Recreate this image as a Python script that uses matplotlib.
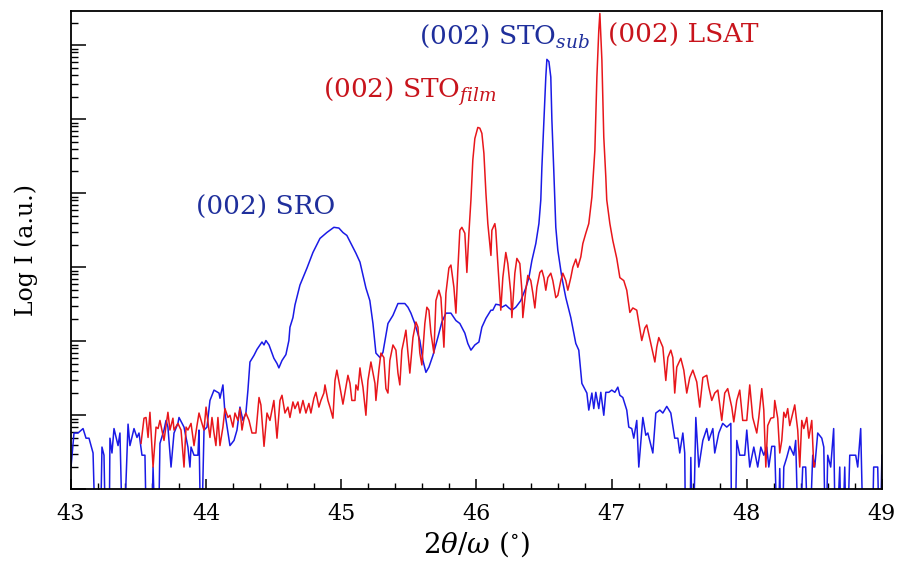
import numpy as np
import matplotlib
matplotlib.use("Agg")
import matplotlib.pyplot as plt
from matplotlib.ticker import LogLocator, NullFormatter, MultipleLocator

plt.rcParams["font.family"] = ["DejaVu Serif"]
plt.rcParams["mathtext.fontset"] = "dejavuserif"

# SRO film on STO substrate (blue), log10 of counts; -1 = no counts
sro_2theta = [43.000, 43.022, 43.052, 43.089, 43.111, 43.133, 43.163, 43.185, 43.214, 43.229,
              43.244, 43.259, 43.281, 43.288, 43.303, 43.318, 43.348, 43.362, 43.385, 43.422,
              43.436, 43.466, 43.488, 43.503, 43.525, 43.547, 43.562, 43.592, 43.607, 43.629,
              43.644, 43.658, 43.688, 43.703, 43.717, 43.740, 43.762, 43.791, 43.799, 43.836,
              43.865, 43.880, 43.888, 43.910, 43.939, 43.947, 43.962, 43.984, 44.006, 44.028,
              44.058, 44.095, 44.102, 44.124, 44.139, 44.176, 44.206, 44.228, 44.250, 44.272,
              44.294, 44.309, 44.324, 44.354, 44.376, 44.413, 44.428, 44.442, 44.465, 44.479,
              44.501, 44.524, 44.538, 44.561, 44.590, 44.612, 44.620, 44.642, 44.657, 44.694,
              44.746, 44.790, 44.842, 44.893, 44.945, 44.982, 45.012, 45.041, 45.086, 45.108,
              45.138, 45.182, 45.211, 45.234, 45.256, 45.286, 45.308, 45.345, 45.382, 45.419,
              45.470, 45.493, 45.515, 45.544, 45.581, 45.604, 45.626, 45.648, 45.678, 45.714,
              45.744, 45.774, 45.811, 45.848, 45.877, 45.914, 45.936, 45.959, 45.988, 46.018,
              46.040, 46.070, 46.107, 46.121, 46.143, 46.173, 46.188, 46.217, 46.240, 46.262,
              46.291, 46.328, 46.365, 46.388, 46.410, 46.439, 46.462, 46.476, 46.484, 46.499,
              46.513, 46.521, 46.536, 46.550, 46.558, 46.572, 46.587, 46.602, 46.632, 46.661,
              46.698, 46.735, 46.757, 46.780, 46.817, 46.831, 46.854, 46.868, 46.883, 46.905,
              46.920, 46.942, 46.957, 46.979, 47.001, 47.024, 47.046, 47.061, 47.083, 47.112,
              47.127, 47.149, 47.164, 47.186, 47.201, 47.231, 47.253, 47.268, 47.305, 47.327,
              47.357, 47.379, 47.408, 47.438, 47.467, 47.490, 47.504, 47.527, 47.541, 47.549,
              47.578, 47.586, 47.601, 47.623, 47.645, 47.675, 47.704, 47.719, 47.749, 47.763,
              47.793, 47.822, 47.852, 47.882, 47.889, 47.911, 47.926, 47.948, 47.985, 48.000,
              48.022, 48.052, 48.081, 48.104, 48.126, 48.148, 48.163, 48.185, 48.207, 48.229,
              48.244, 48.259, 48.274, 48.296, 48.318, 48.348, 48.362, 48.385, 48.414, 48.436,
              48.459, 48.488, 48.503, 48.525, 48.555, 48.570, 48.584, 48.599, 48.621, 48.643,
              48.658, 48.688, 48.703, 48.725, 48.740, 48.762, 48.806, 48.821, 48.843, 48.865,
              48.925, 48.939, 48.969, 48.984, 49.000]
sro_logI = [0.30, 0.76, 0.76, 0.82, 0.69, 0.69, 0.49, -1, -1, 0.57,
            0.46, -1, -1, 0.69, 0.49, 0.82, 0.59, 0.76, -1, 0.88,
            0.59, 0.82, 0.70, 0.76, 0.46, 0.46, -1, -1, 0.30, -1,
            -1, 0.62, 0.80, 0.93, 0.84, 0.30, 0.76, 0.89, 0.97, 0.84,
            0.57, 0.30, 0.57, 0.46, 0.46, 0.80, -1, 0.80, 0.84, 1.20,
            1.34, 1.30, 1.23, 1.41, 1.03, 0.59, 0.66, 0.80, 1.11, 0.93,
            1.03, 1.34, 1.72, 1.81, 1.89, 1.99, 1.95, 2.01, 1.95, 1.88,
            1.77, 1.70, 1.64, 1.74, 1.82, 2.01, 2.19, 2.32, 2.49, 2.76,
            2.99, 3.20, 3.39, 3.47, 3.54, 3.53, 3.47, 3.43, 3.27, 3.19,
            3.07, 2.72, 2.55, 2.24, 1.84, 1.78, 1.85, 2.24, 2.35, 2.51,
            2.51, 2.46, 2.38, 2.24, 2.01, 1.74, 1.58, 1.65, 1.81, 2.05,
            2.26, 2.38, 2.38, 2.28, 2.24, 2.11, 1.97, 1.88, 1.95, 1.99,
            2.19, 2.31, 2.42, 2.42, 2.50, 2.49, 2.46, 2.49, 2.45, 2.42,
            2.46, 2.55, 2.72, 2.86, 3.09, 3.32, 3.59, 3.91, 4.35, 4.99,
            5.57, 5.81, 5.78, 5.57, 4.99, 4.31, 3.54, 3.23, 2.86, 2.59,
            2.32, 1.97, 1.88, 1.43, 1.30, 1.07, 1.30, 1.09, 1.31, 1.09,
            1.31, 1.00, 1.31, 1.31, 1.34, 1.31, 1.38, 1.27, 1.24, 1.07,
            0.84, 0.82, 0.69, 0.93, 0.30, 0.97, 0.73, 0.76, 0.49, 1.03,
            1.07, 1.03, 1.12, 1.03, 0.69, 0.69, 0.49, 0.76, 0.49, -1,
            -1, 0.43, -1, 0.97, 0.30, 0.66, 0.82, 0.66, 0.82, 0.49,
            0.76, 0.89, 0.84, 0.89, -1, -1, 0.66, 0.46, 0.46, 0.80,
            0.30, 0.57, 0.30, 0.57, 0.46, 0.57, 0.30, 0.58, 0.58, -1,
            0.28, -1, 0.30, 0.43, 0.58, 0.46, 0.66, -1, 0.30, 0.30,
            -1, 0.46, 0.30, 0.76, 0.69, 0.57, -1, 0.46, 0.30, 0.82,
            -1, 0.30, -1, 0.30, -1, 0.46, 0.46, 0.30, 0.82, -1,
            -1, 0.30, 0.30, -1, 0.46]

# STO film on LSAT substrate (red)
sto_2theta = [43.518, 43.540, 43.555, 43.570, 43.584, 43.607, 43.629, 43.644, 43.658, 43.688,
              43.717, 43.732, 43.754, 43.762, 43.791, 43.814, 43.836, 43.851, 43.865, 43.888,
              43.910, 43.932, 43.947, 43.969, 43.984, 43.999, 44.028, 44.043, 44.058, 44.072,
              44.087, 44.102, 44.124, 44.139, 44.161, 44.176, 44.198, 44.213, 44.235, 44.250,
              44.265, 44.280, 44.294, 44.317, 44.339, 44.368, 44.391, 44.405, 44.428, 44.450,
              44.472, 44.501, 44.524, 44.546, 44.561, 44.583, 44.605, 44.620, 44.642, 44.657,
              44.679, 44.694, 44.716, 44.738, 44.760, 44.775, 44.797, 44.812, 44.834, 44.849,
              44.871, 44.879, 44.901, 44.916, 44.938, 44.953, 44.967, 44.990, 45.012, 45.034,
              45.049, 45.064, 45.078, 45.101, 45.108, 45.123, 45.138, 45.145, 45.160, 45.182,
              45.197, 45.219, 45.249, 45.256, 45.278, 45.293, 45.315, 45.330, 45.345, 45.359,
              45.382, 45.404, 45.419, 45.433, 45.448, 45.463, 45.478, 45.493, 45.507, 45.530,
              45.552, 45.567, 45.581, 45.596, 45.618, 45.633, 45.648, 45.663, 45.685, 45.700,
              45.722, 45.737, 45.759, 45.774, 45.796, 45.811, 45.833, 45.848, 45.862, 45.877,
              45.892, 45.914, 45.929, 45.944, 45.959, 45.973, 45.988, 46.010, 46.025, 46.040,
              46.055, 46.070, 46.084, 46.107, 46.114, 46.136, 46.143, 46.158, 46.180, 46.195,
              46.217, 46.232, 46.254, 46.262, 46.284, 46.299, 46.321, 46.336, 46.343, 46.365,
              46.380, 46.402, 46.417, 46.432, 46.447, 46.469, 46.484, 46.499, 46.513, 46.528,
              46.550, 46.565, 46.587, 46.602, 46.624, 46.639, 46.661, 46.676, 46.698, 46.713,
              46.735, 46.750, 46.772, 46.787, 46.809, 46.831, 46.854, 46.876, 46.891, 46.905,
              46.913, 46.928, 46.942, 46.957, 46.964, 46.987, 47.009, 47.038, 47.061, 47.090,
              47.112, 47.135, 47.157, 47.186, 47.223, 47.246, 47.260, 47.290, 47.320, 47.334,
              47.349, 47.379, 47.401, 47.416, 47.438, 47.453, 47.467, 47.482, 47.512, 47.534,
              47.556, 47.578, 47.601, 47.630, 47.652, 47.675, 47.704, 47.719, 47.741, 47.763,
              47.786, 47.815, 47.837, 47.859, 47.889, 47.904, 47.926, 47.948, 47.970, 48.000,
              48.022, 48.044, 48.074, 48.089, 48.111, 48.126, 48.141, 48.155, 48.178, 48.200,
              48.207, 48.229, 48.244, 48.259, 48.274, 48.288, 48.303, 48.318, 48.340, 48.355,
              48.377, 48.392, 48.407, 48.422, 48.444, 48.459, 48.481, 48.496, 48.503]
sto_logI = [0.62, 0.96, 0.97, 0.70, 1.04, 0.30, 0.84, 0.82, 0.93, 0.66,
            1.04, 0.80, 0.96, 0.80, 0.89, 0.80, 0.30, 0.84, 0.80, 0.89,
            0.59, 0.86, 1.03, 0.89, 0.80, 1.11, 0.70, 0.97, 0.76, 0.59,
            0.97, 0.59, 0.84, 1.09, 0.97, 1.00, 0.84, 1.03, 0.93, 1.09,
            0.80, 0.96, 1.03, 0.93, 0.76, 0.76, 1.24, 1.14, 0.58, 1.03,
            0.93, 1.20, 0.69, 1.20, 1.27, 1.03, 1.11, 0.97, 1.18, 1.09,
            1.18, 1.03, 1.20, 1.03, 1.16, 1.03, 1.23, 1.31, 1.11, 1.20,
            1.30, 1.41, 1.20, 1.11, 0.96, 1.47, 1.61, 1.38, 1.15, 1.38,
            1.54, 1.43, 1.20, 1.20, 1.41, 1.34, 1.64, 1.54, 1.38, 1.00,
            1.47, 1.72, 1.43, 1.20, 1.61, 1.84, 1.78, 1.36, 1.30, 1.74,
            1.95, 1.88, 1.57, 1.41, 1.88, 2.01, 2.15, 1.84, 1.57, 2.05,
            2.26, 2.19, 1.84, 1.68, 2.24, 2.46, 2.42, 2.11, 1.84, 2.55,
            2.69, 2.59, 1.92, 2.65, 2.99, 3.03, 2.73, 2.38, 2.96, 3.50,
            3.54, 3.46, 2.93, 3.46, 3.91, 4.45, 4.74, 4.89, 4.88, 4.81,
            4.54, 4.00, 3.59, 3.16, 3.50, 3.59, 3.50, 3.05, 2.42, 2.86,
            3.20, 3.05, 2.65, 2.32, 2.92, 3.12, 3.05, 2.69, 2.32, 2.69,
            2.89, 2.82, 2.65, 2.45, 2.73, 2.93, 2.96, 2.86, 2.69, 2.86,
            2.92, 2.82, 2.59, 2.62, 2.82, 2.92, 2.82, 2.69, 2.86, 3.00,
            3.11, 3.00, 3.14, 3.32, 3.46, 3.59, 3.95, 4.58, 5.57, 6.20,
            6.43, 5.80, 4.76, 4.22, 3.91, 3.59, 3.36, 3.12, 2.86, 2.82,
            2.69, 2.39, 2.45, 2.42, 2.01, 2.18, 2.22, 1.97, 1.72, 1.92,
            2.05, 1.92, 1.47, 1.78, 1.88, 1.78, 1.30, 1.65, 1.77, 1.61,
            1.30, 1.51, 1.61, 1.45, 1.11, 1.51, 1.54, 1.38, 1.20, 1.30,
            1.34, 0.93, 1.30, 1.36, 1.11, 0.91, 1.20, 1.34, 0.93, 0.93,
            1.41, 0.97, 0.76, 0.97, 1.36, 1.07, 0.30, 0.86, 0.96, 0.97,
            1.20, 0.96, 0.49, 0.66, 1.04, 0.97, 1.09, 0.86, 1.03, 1.14,
            0.80, 0.30, 0.93, 0.82, 0.97, 0.69, 0.93, 0.30, 0.35]

x_ticks = [43, 44, 45, 46, 47, 48, 49]

fig = plt.figure(figsize=(8.99, 5.63), dpi=100)
ax = fig.add_axes([0.079, 0.131, 0.902, 0.849])

ax.plot(sro_2theta, 10 ** np.array(sro_logI), color="#1a1ae6", lw=1.1)
ax.plot(sto_2theta, 10 ** np.array(sto_logI), color="#e8161b", lw=1.1)

ax.set_yscale("log")
ax.set_xlim(43, 49)
ax.set_ylim(1, 10 ** 6.46)
ax.set_xticks(x_ticks)
ax.xaxis.set_minor_locator(MultipleLocator(0.2))
ax.yaxis.set_major_locator(LogLocator(base=10, numticks=10))
ax.yaxis.set_minor_locator(LogLocator(base=10, subs=np.arange(2, 10), numticks=20))
ax.yaxis.set_major_formatter(NullFormatter())
ax.yaxis.set_minor_formatter(NullFormatter())
ax.tick_params(axis="both", which="both", direction="in", top=False, right=False)
ax.tick_params(axis="y", which="major", length=11, width=1.1)
ax.tick_params(axis="y", which="minor", length=5, width=1)
ax.tick_params(axis="x", which="major", length=7, width=1.1, labelsize=16, pad=10)
ax.tick_params(axis="x", which="minor", length=4, width=1)
for s in ax.spines.values():
    s.set_linewidth(1.3)

ax.set_xlabel(r"$2\theta/\omega$ ($^{\circ}$)", fontsize=20, labelpad=3)
ax.set_ylabel("Log I (a.u.)", fontsize=17, labelpad=20)

blue_txt = "#1f2f9c"
red_txt = "#c8141c"
ax.text(44.44, 10 ** 3.81, "(002) SRO", color=blue_txt, fontsize=19, ha="center", va="center")
ax.text(45.51, 10 ** 5.38, r"(002) STO$_{\mathit{film}}$", color=red_txt, fontsize=19, ha="center", va="center")
ax.text(46.21, 10 ** 6.12, r"(002) STO$_{\mathit{sub}}$", color=blue_txt, fontsize=19, ha="center", va="center")
ax.text(47.53, 10 ** 6.14, "(002) LSAT", color=red_txt, fontsize=19, ha="center", va="center")

fig.savefig("out.png", dpi=100)
